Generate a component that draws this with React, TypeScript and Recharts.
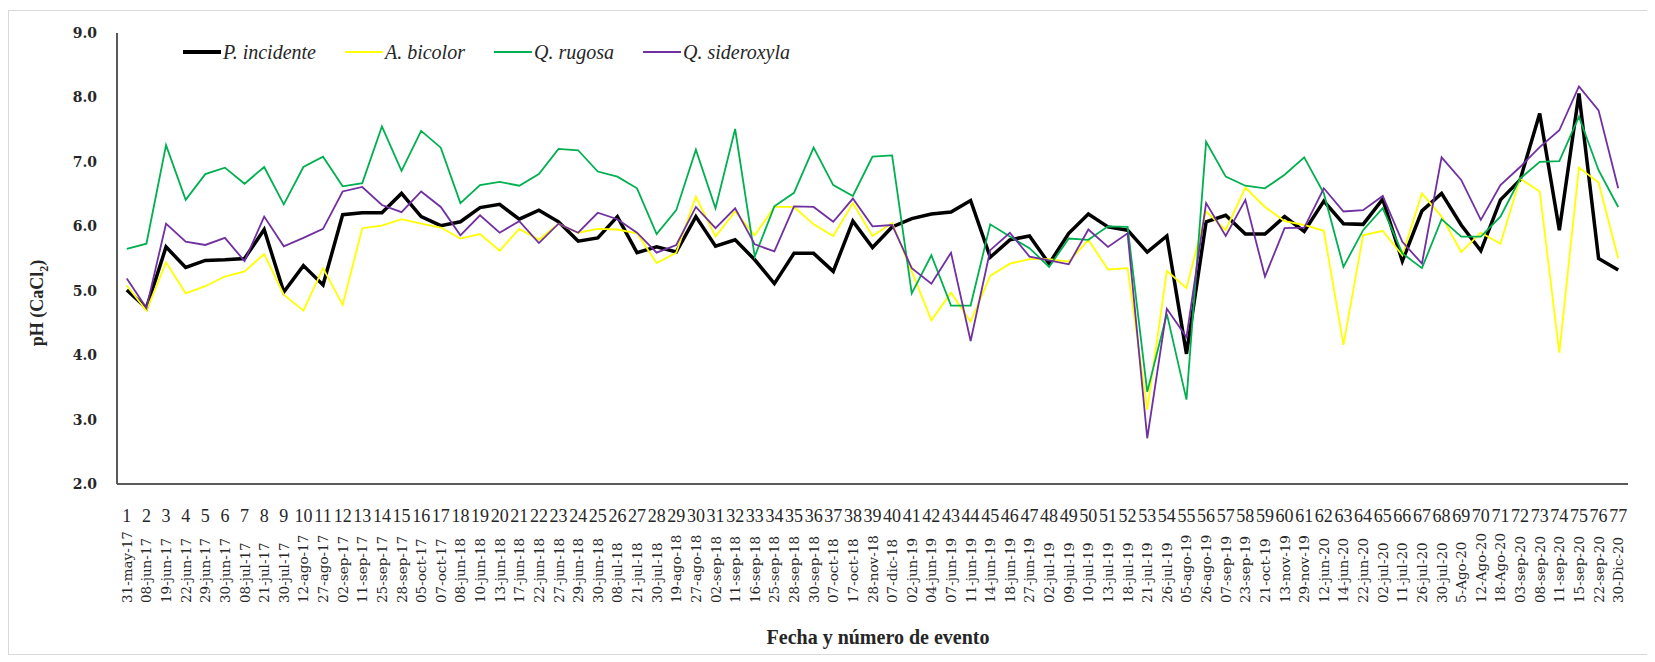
import { LineChart, Line, XAxis, YAxis, Legend } from 'recharts';

// numero de evento (fila superior del eje X)
const eventos = [
  '1', '2', '3', '4', '5', '6', '7', '8', '9', '10', '11', '12', '13', '14', '15', '16', '17', '18', '19', '20',
  '21', '22', '23', '24', '25', '26', '27', '28', '29', '30', '31', '32', '33', '34', '35', '36', '37', '38', '39', '40',
  '41', '42', '43', '44', '45', '46', '47', '48', '49', '50', '51', '52', '53', '54', '55', '56', '57', '58', '59', '60',
  '61', '62', '63', '64', '65', '66', '67', '68', '69', '70', '71', '72', '73', '74', '75', '76', '77',
];

// fecha de cada evento (fila inferior, rotada)
const fechas = [
  '31-may-17', '08-jun-17', '19-jun-17', '22-jun-17', '29-jun-17', '30-jun-17', '08-jul-17', '21-jul-17', '30-jul-17', '12-ago-17',
  '27-ago-17', '02-sep-17', '11-sep-17', '25-sep-17', '28-sep-17', '05-oct-17', '07-oct-17', '08-jun-18', '10-jun-18', '13-jun-18',
  '17-jun-18', '22-jun-18', '27-jun-18', '29-jun-18', '30-jun-18', '08-jul-18', '21-jul-18', '30-jul-18', '19-ago-18', '27-ago-18',
  '02-sep-18', '11-sep-18', '16-sep-18', '25-sep-18', '28-sep-18', '30-sep-18', '07-oct-18', '17-oct-18', '28-nov-18', '07-dic-18',
  '02-jun-19', '04-jun-19', '07-jun-19', '11-jun-19', '14-jun-19', '18-jun-19', '27-jun-19', '02-jul-19', '09-jul-19', '10-jul-19',
  '13-jul-19', '18-jul-19', '21-jul-19', '26-jul-19', '05-ago-19', '26-ago-19', '07-sep-19', '23-sep-19', '21-oct-19', '13-nov-19',
  '29-nov-19', '12-jun-20', '14-jun-20', '22-jun-20', '02-jul-20', '11-jul-20', '26-jul-20', '30-jul-20', '5-Ago-20', '12-Ago-20',
  '18-Ago-20', '03-sep-20', '08-sep-20', '11-sep-20', '15-sep-20', '22-sep-20', '30-Dic-20',
];

const pIncidente = [
  5.01, 4.73, 5.68, 5.36, 5.47, 5.48, 5.5, 5.95, 4.98, 5.39, 5.09, 6.18, 6.21, 6.21, 6.51, 6.15, 6.01, 6.07, 6.29, 6.34,
  6.11, 6.25, 6.07, 5.77, 5.82, 6.15, 5.59, 5.68, 5.6, 6.15, 5.69, 5.79, 5.48, 5.11, 5.58, 5.58, 5.3, 6.08, 5.67, 5.99,
  6.12, 6.19, 6.22, 6.4, 5.52, 5.79, 5.85, 5.42, 5.89, 6.19, 5.99, 5.94, 5.6, 5.85, 4.02, 6.07, 6.17, 5.88, 5.88, 6.15,
  5.92, 6.39, 6.04, 6.03, 6.42, 5.46, 6.24, 6.51, 6.02, 5.62, 6.41, 6.72, 7.75, 5.94, 8.06, 5.5, 5.32,
];

const aBicolor = [
  5.08, 4.69, 5.44, 4.96, 5.07, 5.22, 5.3, 5.57, 4.94, 4.69, 5.35, 4.78, 5.97, 6.01, 6.11, 6.04, 5.98, 5.81, 5.88, 5.62,
  5.96, 5.79, 6.04, 5.9, 5.96, 5.95, 5.89, 5.43, 5.59, 6.46, 5.84, 6.23, 5.86, 6.3, 6.3, 6.03, 5.85, 6.36, 5.85, 6.05,
  5.3, 4.54, 4.97, 4.52, 5.23, 5.42, 5.49, 5.49, 5.45, 5.79, 5.33, 5.35, 3.15, 5.31, 5.04, 6.23, 5.94, 6.6, 6.3, 6.08,
  6.02, 5.93, 4.16, 5.86, 5.93, 5.55, 6.51, 6.15, 5.6, 5.9, 5.73, 6.74, 6.54, 4.04, 6.91, 6.68, 5.5,
];

const qRugosa = [
  5.65, 5.73, 7.26, 6.41, 6.81, 6.91, 6.66, 6.92, 6.34, 6.92, 7.08, 6.62, 6.67, 7.55, 6.86, 7.48, 7.22, 6.36, 6.64, 6.69,
  6.63, 6.81, 7.2, 7.18, 6.85, 6.77, 6.59, 5.88, 6.25, 7.19, 6.28, 7.51, 5.53, 6.31, 6.52, 7.22, 6.64, 6.47, 7.08, 7.1,
  4.96, 5.55, 4.77, 4.77, 6.03, 5.84, 5.66, 5.37, 5.81, 5.79, 6.0, 5.99, 3.43, 4.64, 3.31, 7.31, 6.77, 6.63, 6.59, 6.8,
  7.07, 6.51, 5.37, 5.94, 6.28, 5.58, 5.35, 6.11, 5.84, 5.84, 6.15, 6.74, 7.0, 7.01, 7.7, 6.87, 6.3,
];

const qSideroxyla = [
  5.19, 4.73, 6.04, 5.76, 5.71, 5.82, 5.46, 6.15, 5.69, 5.82, 5.96, 6.54, 6.61, 6.33, 6.22, 6.54, 6.3, 5.86, 6.17, 5.9,
  6.08, 5.74, 6.04, 5.9, 6.21, 6.11, 5.9, 5.59, 5.71, 6.3, 5.97, 6.28, 5.72, 5.61, 6.31, 6.3, 6.07, 6.43, 6.0, 6.02,
  5.35, 5.11, 5.59, 4.22, 5.63, 5.9, 5.53, 5.47, 5.41, 5.95, 5.68, 5.89, 2.71, 4.72, 4.28, 6.36, 5.85, 6.41, 5.22, 5.97,
  5.98, 6.59, 6.23, 6.25, 6.47, 5.76, 5.42, 7.07, 6.72, 6.1, 6.64, 6.92, 7.23, 7.49, 8.17, 7.8, 6.59,
];

const ticksY = [2, 3, 4, 5, 6, 7, 8, 9];

const series = [
  { key: 'pIncidente', name: 'P. incidente', color: '#000000', width: 3.5 },
  { key: 'aBicolor', name: 'A. bicolor', color: '#FFFF00', width: 1.8 },
  { key: 'qRugosa', name: 'Q. rugosa', color: '#00B050', width: 1.8 },
  { key: 'qSideroxyla', name: 'Q. sideroxyla', color: '#7030A0', width: 1.8 },
];

const data = eventos.map((ev, i) => ({
  evento: ev,
  fecha: fechas[i],
  pIncidente: pIncidente[i],
  aBicolor: aBicolor[i],
  qRugosa: qRugosa[i],
  qSideroxyla: qSideroxyla[i],
}));

const SERIF = '"Liberation Serif", "Times New Roman", serif';
const WIDE_SERIF = '"DejaVu Serif", serif';
const AXIS = '#595959';

// doble etiqueta: numero arriba, fecha rotada abajo
function EventTick(props: any) {
  const { x, y, payload } = props;
  const fecha = fechas[payload.index];
  return (
    <g>
      <text x={x} y={y + 30} textAnchor="middle" fontFamily={SERIF} fontSize={18} fill="#262626">
        {payload.value}
      </text>
      <text
        x={0}
        y={0}
        transform={`translate(${x + 5}, 595) rotate(-90)`}
        textAnchor="start"
        fontFamily={WIDE_SERIF}
        fontSize={13.5}
        fill="#262626"
      >
        {fecha}
      </text>
    </g>
  );
}

// titulos de ejes en un svg aparte, asi Recharts no les cambia la posicion
function Titulos() {
  return (
    <svg width={1640} height={650} style={{ position: 'absolute', left: 0, top: 0, pointerEvents: 'none' }}>
      <text
        transform="translate(35, 295) rotate(-90)"
        textAnchor="middle"
        fontFamily={SERIF}
        fontSize={18}
        fontWeight="bold"
        fill="#262626"
      >
        <tspan>pH (CaCl</tspan>
        <tspan dy={5} fontSize={12}>2</tspan>
        <tspan dy={-5}>)</tspan>
      </text>
      <text x={870} y={636} textAnchor="middle" fontFamily={SERIF} fontSize={20} fontWeight="bold" fill="#262626">
        Fecha y número de evento
      </text>
    </svg>
  );
}

function Leyenda() {
  return (
    <div style={{ display: 'flex', alignItems: 'center' }}>
      {series.map(s => (
        <div key={s.key} style={{ display: 'flex', alignItems: 'center', marginRight: 29 }}>
          <div style={{ width: 38, height: s.key === 'pIncidente' ? 4 : 2, background: s.color }} />
          <span
            style={{
              marginLeft: 2,
              fontFamily: SERIF,
              fontStyle: 'italic',
              fontSize: 20,
              color: '#262626',
              lineHeight: '24px',
            }}
          >
            {s.name}
          </span>
        </div>
      ))}
    </div>
  );
}

export default function App() {
  return (
    <div style={{ position: 'relative', width: 1640, height: 650 }}>
      <div
        style={{
          position: 'absolute',
          left: 0,
          top: 2,
          width: 1640,
          height: 645,
          border: '1px solid #d9d9d9',
          boxSizing: 'border-box',
        }}
      />
      <LineChart width={1640} height={650} data={data} margin={{ top: 25, right: 20, bottom: 0, left: 0 }}>
        <XAxis
          dataKey="evento"
          interval={0}
          height={174}
          padding={{ left: 9.8, right: 9.8 }}
          tick={<EventTick />}
          tickLine={false}
          axisLine={{ stroke: AXIS, strokeWidth: 2 }}
        />
        <YAxis
          width={109}
          domain={[2, 9]}
          ticks={ticksY}
          interval={0}
          tickFormatter={(v: number) => v.toFixed(1)}
          tickSize={0}
          tickMargin={20}
          tickLine={false}
          axisLine={{ stroke: AXIS, strokeWidth: 2 }}
          tick={{ fontFamily: WIDE_SERIF, fontSize: 14, fontWeight: 'bold', fill: '#262626' }}
        />
        <Legend
          verticalAlign="middle"
          align="center"
          layout="horizontal"
          wrapperStyle={{ top: 32, left: 175, width: 'auto' }}
          content={<Leyenda />}
        />
        {series.map(s => (
          <Line
            key={s.key}
            type="linear"
            dataKey={s.key}
            name={s.name}
            stroke={s.color}
            strokeWidth={s.width}
            dot={false}
            activeDot={false}
            isAnimationActive={false}
          />
        ))}
      </LineChart>
      <Titulos />
    </div>
  );
}
